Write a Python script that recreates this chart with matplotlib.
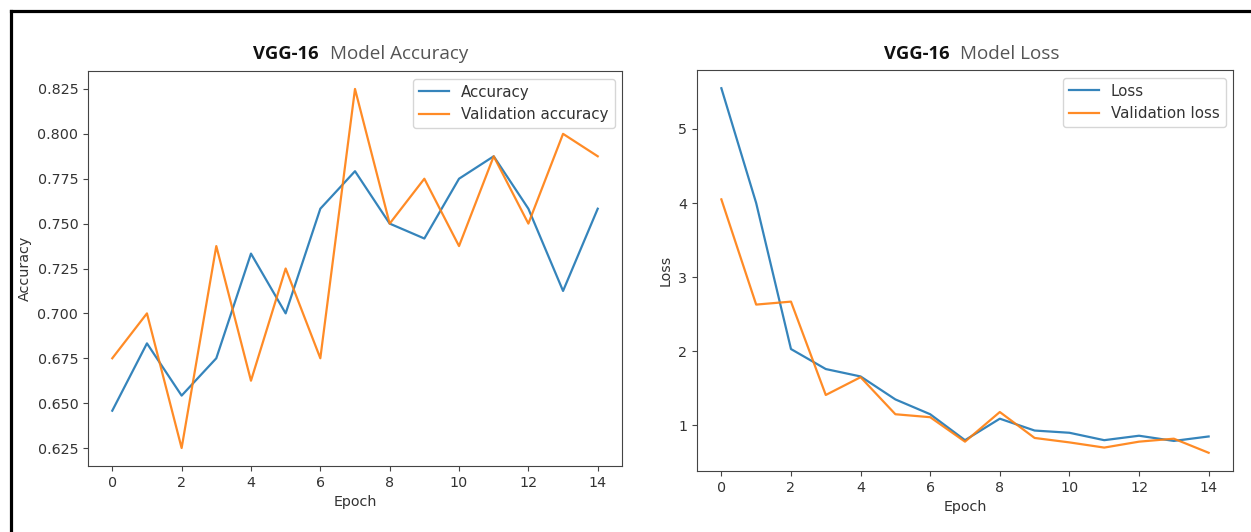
import matplotlib
matplotlib.use("Agg")
import matplotlib.pyplot as plt
from matplotlib.lines import Line2D

epochs = list(range(15))
accuracy = [0.6458, 0.6833, 0.6542, 0.675, 0.7333, 0.700, 0.7583, 0.7792,
            0.750, 0.7417, 0.775, 0.7875, 0.7583, 0.7125, 0.7583]
val_accuracy = [0.675, 0.700, 0.625, 0.7375, 0.6625, 0.725, 0.675, 0.825,
                0.750, 0.775, 0.7375, 0.7875, 0.750, 0.800, 0.7875]
loss = [5.55, 4.00, 2.03, 1.76, 1.66, 1.35, 1.15, 0.80, 1.09, 0.93, 0.90,
        0.80, 0.86, 0.79, 0.85]
val_loss = [4.05, 2.63, 2.67, 1.41, 1.65, 1.15, 1.11, 0.78, 1.18, 0.83,
            0.77, 0.70, 0.78, 0.82, 0.63]

W, H = 1251, 532
fig = plt.figure(figsize=(W / 100, H / 100), dpi=100)

def frac(x0, y0, x1, y1):
    return [x0 / W, 1 - y1 / H, (x1 - x0) / W, (y1 - y0) / H]

ax1 = fig.add_axes(frac(88, 71, 622, 466))
ax2 = fig.add_axes(frac(697, 70, 1233, 471))

tick_color = "#333333"
for ax in (ax1, ax2):
    ax.tick_params(labelsize=10.3, colors="#444444", labelcolor=tick_color)
    for s in ax.spines.values():
        s.set_color("#444444")

ax1.plot(epochs, accuracy, color="#1f77b4", label="Accuracy", lw=1.6, alpha=0.9)
ax1.plot(epochs, val_accuracy, color="#ff7f0e", label="Validation accuracy", lw=1.6, alpha=0.9)
ax1.set_xticks(range(0, 15, 2))
ax1.set_yticks([0.625, 0.650, 0.675, 0.700, 0.725, 0.750, 0.775, 0.800, 0.825])
ax1.yaxis.set_major_formatter(matplotlib.ticker.FormatStrFormatter("%.3f"))
ax1.set_xlabel("Epoch", fontsize=10.3, color=tick_color)
ax1.set_ylabel("Accuracy", fontsize=10.3, color=tick_color)
leg1 = ax1.legend(loc="upper right", fontsize=10.8)
for t in leg1.get_texts():
    t.set_color(tick_color)

ax2.plot(epochs, loss, color="#1f77b4", label="Loss", lw=1.6, alpha=0.9)
ax2.plot(epochs, val_loss, color="#ff7f0e", label="Validation loss", lw=1.6, alpha=0.9)
ax2.set_xticks(range(0, 15, 2))
ax2.set_yticks([1, 2, 3, 4, 5])
ax2.set_xlabel("Epoch", fontsize=10.3, color=tick_color)
ax2.set_ylabel("Loss", fontsize=10.3, color=tick_color)
leg2 = ax2.legend(loc="upper right", fontsize=10.8)
for t in leg2.get_texts():
    t.set_color(tick_color)

def title_pair(xb, xr, y, bold, rest):
    fig.text(xb / W, 1 - y / H, bold, fontsize=13.2, fontweight="bold",
             family="Open Sans", color="#111111", va="baseline", ha="left")
    fig.text(xr / W, 1 - y / H, rest, fontsize=13.6,
             family="Open Sans", color="#555555", va="baseline", ha="left")

title_pair(253, 330, 59, "VGG-16", "Model Accuracy")
title_pair(884, 960, 59, "VGG-16", "Model Loss")

# outer black frame (top and left edges)
fig.add_artist(Line2D([11 / W, 1.0], [1 - 11 / H, 1 - 11 / H], color="black", lw=2.3,
                      transform=fig.transFigure))
fig.add_artist(Line2D([11 / W, 11 / W], [0.0, 1 - 11 / H], color="black", lw=2.3,
                      transform=fig.transFigure))

fig.savefig("out.png", dpi=100)
